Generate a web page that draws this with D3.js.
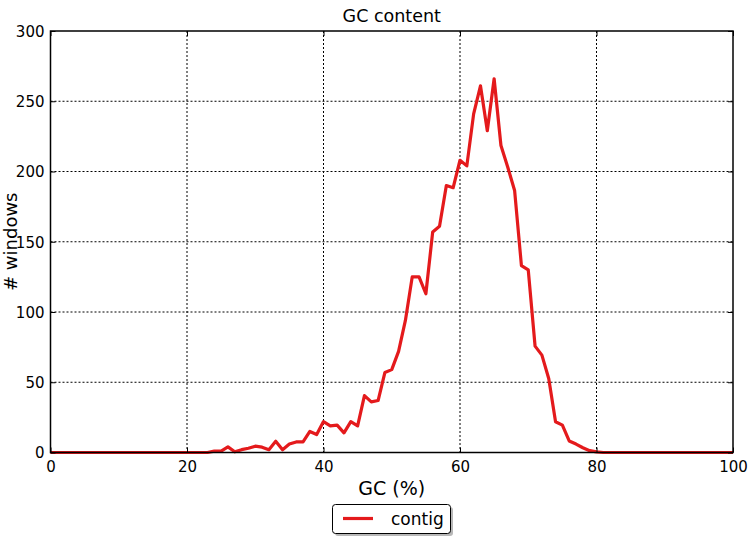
<!DOCTYPE html>
<html><head><meta charset="utf-8">
<script src="https://cdn.jsdelivr.net/npm/d3@7"></script>
<style>body{margin:0;background:#fff;} text{font-family:"DejaVu Sans",sans-serif;}</style>
</head><body>
<svg id="chart" width="749" height="540"></svg>
<script>
const gcPercent = d3.range(0, 101);
const windowCounts = [
  0,0,0,0,0,0,0,0,0,0,
  0,0,0,0,0,0,0,0,0,0,
  0,0,0,0,1,1,4,0.5,2,3,
  4.5,3.8,2,8,2,6,7.5,7.6,15,12.8,
  22,19,19.5,14,22,19,40.5,36,37,57,
  59,72,94,125,125,113,157,161,190,188.5,
  208,204,241,261,229,266,218.5,203,186.5,133,
  130,75.7,69.3,52.7,21.9,19.5,8.2,6,3.4,1.3,
  0.4,0,0,0,0,0,0,0,0,0,
  0,0,0,0,0,0,0,0,0,0,0
];
const xTicks = [0,20,40,60,80,100];
const yTicks = [0,50,100,150,200,250,300];
const seriesName = "contig";
const titleText = "GC content";
const xLabel = "GC (%)";
const yLabel = "# windows";

const svg = d3.select("#chart");
const m = {left:50.5, right:733, top:31, bottom:452.5};
const x = d3.scaleLinear().domain([0,100]).range([m.left, m.right]);
const y = d3.scaleLinear().domain([0,300]).range([m.bottom, m.top]);

// grid
const grid = svg.append("g");
grid.selectAll(".vg").data(xTicks.filter(d=>d>0&&d<100)).enter().append("line")
  .attr("x1",d=>x(d)).attr("x2",d=>x(d)).attr("y1",m.top).attr("y2",m.bottom)
  .attr("stroke","#000").attr("stroke-width",1).attr("stroke-dasharray","2,2");
grid.selectAll(".hg").data(yTicks.filter(d=>d>0&&d<300)).enter().append("line")
  .attr("y1",d=>y(d)).attr("y2",d=>y(d)).attr("x1",m.left).attr("x2",m.right)
  .attr("stroke","#000").attr("stroke-width",1).attr("stroke-dasharray","2,2");

// line
const line = d3.line().x((d,i)=>x(gcPercent[i])).y(d=>y(d));
svg.append("path").datum(windowCounts).attr("d",line)
  .attr("fill","none").attr("stroke","#e41a1c").attr("stroke-width",3.2)
  .attr("stroke-linejoin","round");

// axes (ticks inside)
const xb = svg.append("g").attr("transform",`translate(0,${m.bottom})`)
  .call(d3.axisBottom(x).tickValues(xTicks).tickSizeInner(-5).tickSizeOuter(0).tickPadding(9));
const xt = svg.append("g").attr("transform",`translate(0,${m.top})`)
  .call(d3.axisTop(x).tickValues(xTicks).tickSizeInner(-5).tickSizeOuter(0).tickFormat(""));
const yl = svg.append("g").attr("transform",`translate(${m.left},0)`)
  .call(d3.axisLeft(y).tickValues(yTicks).tickSizeInner(-5).tickSizeOuter(0).tickPadding(6));
const yr = svg.append("g").attr("transform",`translate(${m.right},0)`)
  .call(d3.axisRight(y).tickValues(yTicks).tickSizeInner(-5).tickSizeOuter(0).tickFormat(""));
[xb,xt,yl,yr].forEach(g=>{
  g.select(".domain").remove();
  g.selectAll(".tick line").attr("stroke","#000");
  g.selectAll("text").attr("fill","#000").style("font-size","15px").style("font-family","DejaVu Sans");
});
yl.selectAll("text").attr("dy","0.36em");

// frame
svg.append("rect").attr("x",m.left).attr("y",m.top).attr("width",m.right-m.left).attr("height",m.bottom-m.top)
  .attr("fill","none").attr("stroke","#000").attr("stroke-width",1.5);

// title and labels
svg.append("text").attr("x",(m.left+m.right)/2).attr("y",22).attr("text-anchor","middle")
  .style("font-size","17.5px").text(titleText);
svg.append("text").attr("x",(m.left+m.right)/2).attr("y",495).attr("text-anchor","middle")
  .style("font-size","19px").text(xLabel);
svg.append("text").attr("transform",`translate(16.5,${(m.top+m.bottom)/2}) rotate(-90)`)
  .attr("text-anchor","middle").style("font-size","18px").text(yLabel);

// legend
const lg = svg.append("g");
lg.append("rect").attr("x",335).attr("y",507).attr("width",118).attr("height",29).attr("rx",3)
  .attr("fill","#888").attr("opacity",0.6);
lg.append("rect").attr("x",332.5).attr("y",504.5).attr("width",118).attr("height",29).attr("rx",3)
  .attr("fill","#fff").attr("stroke","#000").attr("stroke-width",1);
lg.append("line").attr("x1",343).attr("x2",373).attr("y1",518.5).attr("y2",518.5)
  .attr("stroke","#e41a1c").attr("stroke-width",3.2);
lg.append("text").attr("x",391).attr("y",525).style("font-size","17px").text(seriesName);
</script>
</body></html>
